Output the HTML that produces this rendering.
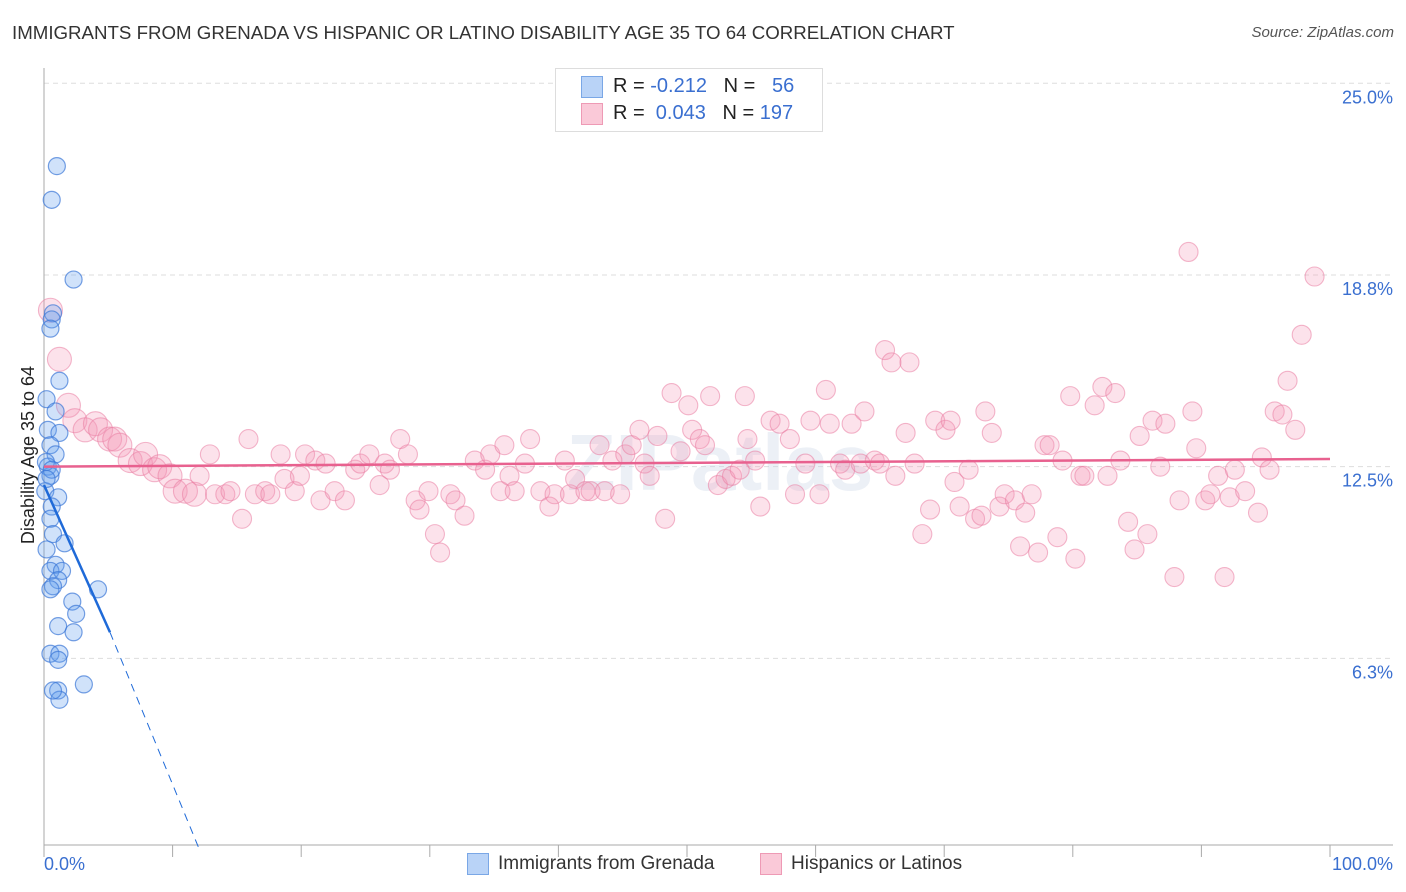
<!DOCTYPE html>
<html><head><meta charset="utf-8"><style>
body{margin:0;background:#fff;font-family:"Liberation Sans",sans-serif;}
#wrap{position:relative;width:1406px;height:892px;overflow:hidden;}
.t{position:absolute;white-space:nowrap;}
</style></head><body>
<div id="wrap">
<div class="t" style="left:12px;top:22px;font-size:18.7px;color:#333;">IMMIGRANTS FROM GRENADA VS HISPANIC OR LATINO DISABILITY AGE 35 TO 64 CORRELATION CHART</div>
<div class="t" style="right:12px;top:24px;font-size:15px;color:#555;font-style:italic;">Source: ZipAtlas.com</div>
<svg id="svg" width="1406" height="892" style="position:absolute;left:0;top:0"></svg>
</div>
<script>
const yTicks=[25.0,18.8,12.5,6.3];
const yTickVals=[25,18.75,12.5,6.25];
const xTickLabels=["0.0%","100.0%"];
const pinkX=[0.5,1.2,1.9,2.4,3.2,4.0,4.4,5.1,5.5,5.9,6.7,7.5,7.9,8.6,9.0,9.8,10.2,11.0,11.7,12.1,12.9,13.3,14.1,14.5,15.4,15.9,16.4,17.2,17.6,18.4,18.7,19.5,19.9,20.3,21.1,21.5,21.9,22.6,23.4,24.2,24.6,25.3,26.1,26.5,26.9,27.7,28.3,28.9,29.2,29.9,30.4,30.8,31.6,32.0,32.7,33.5,34.3,34.7,35.5,35.8,36.2,36.6,37.4,37.8,38.6,39.3,39.7,40.5,40.9,41.3,42.1,42.5,43.2,43.6,44.2,44.8,45.2,45.7,46.3,46.7,47.1,47.7,48.3,48.8,49.5,50.1,50.4,51.0,51.4,51.8,52.4,53.0,53.5,54.1,54.5,54.7,55.3,55.7,56.5,57.2,58.0,58.4,59.2,59.6,60.3,60.8,61.1,61.9,62.3,62.8,63.5,63.8,64.6,65.0,65.4,65.9,66.2,67.0,67.3,67.7,68.3,68.9,69.3,70.1,70.5,70.8,71.2,71.9,72.4,72.9,73.2,73.7,74.3,74.7,75.5,75.9,76.3,76.8,77.3,77.8,78.2,78.8,79.2,79.8,80.2,80.6,80.9,81.7,82.3,82.7,83.3,83.7,84.3,84.8,85.2,85.8,86.2,86.8,87.2,87.9,88.3,89.0,89.3,89.6,90.3,90.7,91.3,91.8,92.2,92.6,93.4,94.4,94.7,95.3,95.7,96.3,96.7,97.3,97.8,98.8];
const pinkY=[17.6,16.0,14.5,14.0,13.7,13.9,13.7,13.4,13.4,13.2,12.7,12.6,12.9,12.4,12.5,12.2,11.7,11.7,11.6,12.2,12.9,11.6,11.6,11.7,10.8,13.4,11.6,11.7,11.6,12.9,12.1,11.7,12.2,12.9,12.7,11.4,12.6,11.7,11.4,12.4,12.6,12.9,11.9,12.6,12.4,13.4,12.9,11.4,11.1,11.7,10.3,9.7,11.6,11.4,10.9,12.7,12.4,12.9,11.7,13.2,12.2,11.7,12.6,13.4,11.7,11.2,11.6,12.7,11.6,12.1,11.7,11.7,13.2,11.7,12.7,11.6,12.9,13.2,13.7,12.6,12.2,13.5,10.8,14.9,13.0,14.5,13.7,13.4,13.2,14.8,11.9,12.1,12.2,12.4,14.8,13.4,12.7,11.2,14.0,13.9,13.4,11.6,12.6,14.0,11.6,15.0,13.9,12.6,12.4,13.9,12.6,14.3,12.7,12.6,16.3,15.9,12.2,13.6,15.9,12.6,10.3,11.1,14.0,13.7,14.0,12.0,11.2,12.4,10.8,10.9,14.3,13.6,11.2,11.6,11.4,9.9,11.0,11.6,9.7,13.2,13.2,10.2,12.7,14.8,9.5,12.2,12.2,14.5,15.1,12.2,14.9,12.7,10.7,9.8,13.5,10.3,14.0,12.5,13.9,8.9,11.4,19.5,14.3,13.1,11.4,11.6,12.2,8.9,11.5,12.4,11.7,11.0,12.8,12.4,14.3,14.2,15.3,13.7,16.8,18.7];
const blueX=[1.0,0.6,2.3,0.7,0.6,0.5,1.2,0.2,0.9,0.3,1.2,0.5,0.9,0.3,0.5,0.1,1.1,0.6,0.5,0.7,1.6,0.2,0.9,0.5,1.4,1.1,0.7,0.5,4.2,2.2,2.5,1.1,2.3,0.5,1.2,1.1,3.1,1.1,1.2,0.7,0.15,0.6,0.2];
const blueY=[22.3,21.2,18.6,17.5,17.3,17.0,15.3,14.7,14.3,13.7,13.6,13.2,12.9,12.5,12.2,11.7,11.5,11.2,10.8,10.3,10.0,9.8,9.3,9.1,9.1,8.8,8.6,8.5,8.5,8.1,7.7,7.3,7.1,6.4,6.4,6.2,5.4,5.2,4.9,5.2,12.65,12.4,12.1];
const pinkTrend=[12.5,12.75];
const blueTrend=[11.9,7.1,0]; const blueTrendX=[0,5.13,12.1];

const L=44,R=1330,B=850;
const sx=v=>L+v*(R-L)/100;
const sy=v=>B-v*(B-83.3)/25;
const svg=document.getElementById('svg');const NS='http://www.w3.org/2000/svg';
function mk(t,a,p){const e=document.createElementNS(NS,t);for(const k in a)e.setAttribute(k,a[k]);(p||svg).appendChild(e);return e;}
yTickVals.forEach((v,i)=>{
 const g=mk('line',{x1:L,x2:1393,y1:sy(v),y2:sy(v),stroke:'#ddd','stroke-dasharray':'5,4'});
 
 
 const t=mk('text',{x:1393,y:sy(v)+20,'text-anchor':'end','font-size':18,fill:'#3a6fd0','font-family':'Liberation Sans'});
 t.textContent=yTicks[i].toFixed(1)+'%';
 
 
});
mk('line',{x1:L,x2:L,y1:68,y2:845,stroke:'#aaa'});
const xa=mk('line',{x1:L,x2:1393,y1:845,y2:845,stroke:'#aaa'});


for(let i=0;i<=10;i++){mk('line',{x1:sx(i*10),x2:sx(i*10),y1:845,y2:857,stroke:'#aaa'});}
[[0,'start',44],[1,'end',1393]].forEach(([i,a,x])=>{
 const t=mk('text',{x:x,y:870,'text-anchor':a,'font-size':18,fill:'#3a6fd0','font-family':'Liberation Sans'});
 t.textContent=xTickLabels[i];
 
 
});
const yt=mk('text',{x:0,y:0,transform:'translate(34,455) rotate(-90)','text-anchor':'middle','font-size':18,fill:'#222','font-family':'Liberation Sans'});
yt.textContent='Disability Age 35 to 64';


const wm=mk('text',{x:720,y:490,'text-anchor':'middle','font-size':80,'font-weight':'bold',fill:'#c8d4e6','fill-opacity':0.35,'font-family':'Liberation Sans'});
wm.textContent='ZIPatlas';


pinkX.forEach((x,i)=>{const r=x<12?12:9.5;
 const c=mk('circle',{cx:sx(x),cy:sy(pinkY[i]),r:r,fill:'rgba(244,150,182,0.28)',stroke:'rgba(233,125,163,0.55)','stroke-width':1.1});
 
 
});
blueX.forEach((x,i)=>{
 const c=mk('circle',{cx:sx(x),cy:sy(blueY[i]),r:8.5,fill:'rgba(100,160,240,0.3)',stroke:'rgba(60,120,215,0.7)','stroke-width':1.2});
 
 
});
const pl=mk('line',{x1:sx(0),x2:sx(100),y1:sy(pinkTrend[0]),y2:sy(pinkTrend[1]),stroke:'#e8618f','stroke-width':2.5});


const bl=mk('line',{x1:sx(blueTrendX[0]),x2:sx(blueTrendX[1]),y1:sy(blueTrend[0]),y2:sy(blueTrend[1]),stroke:'#1f6ad8','stroke-width':2.5});


const bd=mk('line',{x1:sx(blueTrendX[1]),x2:sx(blueTrendX[2]),y1:sy(blueTrend[1]),y2:sy(blueTrend[2]),stroke:'#1f6ad8','stroke-width':1,'stroke-dasharray':'8,6'});


</script>
<div style="position:absolute;left:555px;top:68px;width:266px;height:62px;border:1px solid #ddd;background:#fff;font-size:20px;color:#222;">
 <div style="position:absolute;left:25px;top:7px;width:20px;height:20px;background:#b9d3f7;border:1px solid #7aa7e6;"></div>
 <div class="t" style="left:57px;top:6px;">R = <span style="color:#3a6fd0">-0.212</span>&nbsp;&nbsp;&nbsp;N = &nbsp;&nbsp;<span style="color:#3a6fd0">56</span></div>
 <div style="position:absolute;left:25px;top:34px;width:20px;height:20px;background:#fac9d8;border:1px solid #ee9ab5;"></div>
 <div class="t" style="left:57px;top:33px;">R = &nbsp;<span style="color:#3a6fd0">0.043</span>&nbsp;&nbsp;&nbsp;N = <span style="color:#3a6fd0">197</span></div>
</div>
<div style="position:absolute;left:0;top:850px;width:1406px;font-size:19px;color:#333;">
 <div style="position:absolute;left:467px;top:3px;width:20px;height:20px;background:#b9d3f7;border:1px solid #7aa7e6;"></div>
 <div class="t" style="left:498px;top:3px;">Immigrants from Grenada</div>
 <div style="position:absolute;left:760px;top:3px;width:20px;height:20px;background:#fac9d8;border:1px solid #ee9ab5;"></div>
 <div class="t" style="left:791px;top:3px;">Hispanics or Latinos</div>
</div>
</body></html>
